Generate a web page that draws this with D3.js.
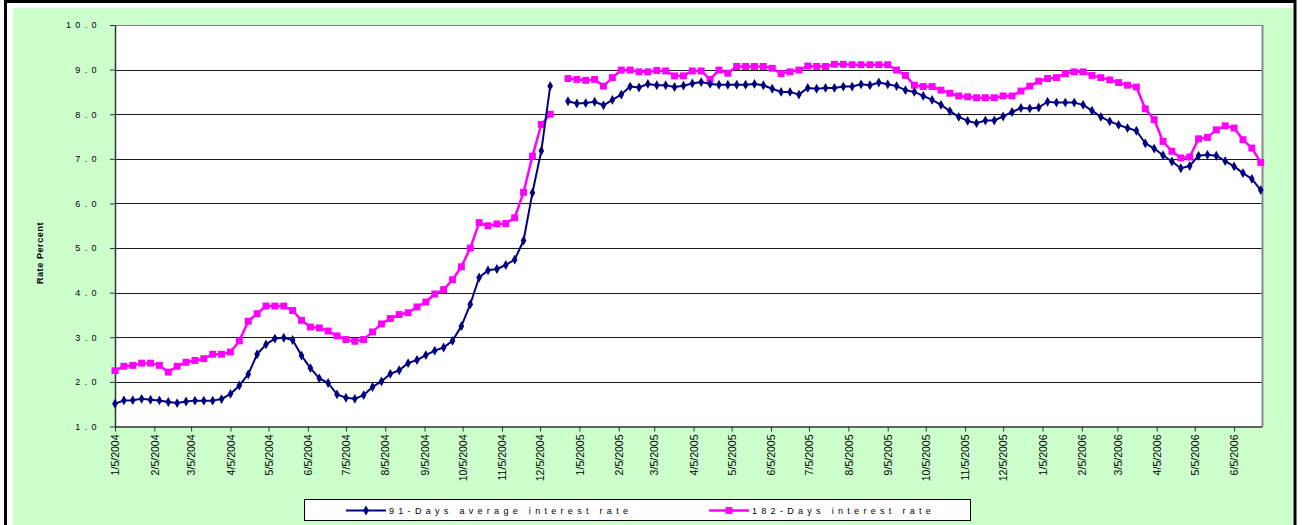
<!DOCTYPE html>
<html><head><meta charset="utf-8">
<script src="https://cdn.jsdelivr.net/npm/d3@7/dist/d3.min.js"></script>
<style>
body{margin:0;background:#fff;}
svg{display:block;font-family:"Liberation Sans",Arial,sans-serif;}
</style>
</head><body>
<svg id="c" width="1303" height="525"></svg>
<script>
// ---------------- DATA ----------------
const dates = [
"2004-01-05","2004-01-12","2004-01-19","2004-01-26","2004-02-02","2004-02-09","2004-02-16","2004-02-23",
"2004-03-01","2004-03-08","2004-03-15","2004-03-22","2004-03-29","2004-04-05","2004-04-12","2004-04-19","2004-04-26",
"2004-05-03","2004-05-10","2004-05-17","2004-05-24","2004-05-31","2004-06-07","2004-06-14","2004-06-21","2004-06-28",
"2004-07-05","2004-07-12","2004-07-19","2004-07-26","2004-08-02","2004-08-09","2004-08-16","2004-08-23","2004-08-30",
"2004-09-06","2004-09-13","2004-09-20","2004-09-27","2004-10-04","2004-10-11","2004-10-18","2004-10-25",
"2004-11-01","2004-11-08","2004-11-15","2004-11-22","2004-11-29","2004-12-06","2004-12-13","2004-12-20","2004-12-27",
"2005-01-03","2005-01-10","2005-01-17","2005-01-24","2005-01-31","2005-02-07","2005-02-14","2005-02-21","2005-02-28",
"2005-03-07","2005-03-14","2005-03-21","2005-03-28","2005-04-04","2005-04-11","2005-04-18","2005-04-25",
"2005-05-02","2005-05-09","2005-05-16","2005-05-23","2005-05-30","2005-06-06","2005-06-13","2005-06-20","2005-06-27",
"2005-07-04","2005-07-11","2005-07-18","2005-07-25","2005-08-01","2005-08-08","2005-08-15","2005-08-22","2005-08-29",
"2005-09-05","2005-09-12","2005-09-19","2005-09-26","2005-10-03","2005-10-10","2005-10-17","2005-10-24","2005-10-31",
"2005-11-07","2005-11-14","2005-11-21","2005-11-28","2005-12-05","2005-12-12","2005-12-19","2005-12-26",
"2006-01-02","2006-01-09","2006-01-16","2006-01-23","2006-01-30","2006-02-06","2006-02-13","2006-02-20","2006-02-27",
"2006-03-06","2006-03-13","2006-03-20","2006-03-27","2006-04-03","2006-04-10","2006-04-17","2006-04-24",
"2006-05-01","2006-05-08","2006-05-15","2006-05-22","2006-05-29","2006-06-05","2006-06-12","2006-06-19","2006-06-26"
];

const rate91 = [
1.51,1.585,1.59,1.62,1.60,1.585,1.55,1.525,1.56,1.58,1.58,1.58,1.615,1.73,1.92,2.17,2.62,2.84,2.97,2.99,
2.94,2.59,2.31,2.08,1.975,1.72,1.645,1.62,1.705,1.885,2.01,2.18,2.26,2.42,2.49,2.60,2.70,2.77,2.92,3.25,
3.74,4.34,4.50,4.53,4.62,4.74,5.17,6.24,7.18,8.63,null,
8.29,8.24,8.25,8.28,8.20,8.32,8.44,8.62,8.60,8.68,8.65,8.65,8.61,8.64,8.69,8.72,8.68,8.66,8.66,8.66,
8.66,8.68,8.65,8.57,8.50,8.50,8.44,8.59,8.57,8.59,8.59,8.62,8.62,8.67,8.65,8.71,8.67,8.63,
8.54,8.50,8.41,8.32,8.21,8.07,7.94,7.85,7.80,7.86,7.86,7.95,8.05,8.14,8.13,8.15,8.28,8.26,8.26,8.26,
8.21,8.08,7.94,7.84,7.76,7.69,7.63,7.35,7.23,7.08,6.94,6.79,6.84,7.07,7.09,7.07,6.95,6.83,6.68,6.55,6.30
];

const rate182 = [
2.25,2.35,2.37,2.42,2.42,2.37,2.22,2.35,2.44,2.48,2.52,2.62,2.62,2.67,2.92,3.36,3.53,3.70,3.70,3.70,
3.60,3.38,3.23,3.21,3.14,3.03,2.95,2.91,2.95,3.12,3.30,3.42,3.51,3.55,3.68,3.79,3.97,4.07,4.29,4.58,
5.00,5.57,5.50,5.54,5.55,5.68,6.25,7.06,7.77,8.00,null,
8.80,8.78,8.76,8.78,8.63,8.82,8.99,8.99,8.95,8.95,8.98,8.97,8.86,8.86,8.97,8.97,8.78,8.99,8.92,9.07,
9.07,9.07,9.07,9.03,8.91,8.95,8.99,9.08,9.07,9.07,9.12,9.12,9.11,9.11,9.11,9.11,9.11,8.99,
8.87,8.65,8.62,8.62,8.54,8.47,8.41,8.39,8.37,8.37,8.37,8.41,8.41,8.52,8.63,8.74,8.80,8.82,8.91,8.95,
8.95,8.87,8.82,8.77,8.71,8.65,8.61,8.12,7.88,7.39,7.17,7.02,7.04,7.45,7.48,7.65,7.74,7.69,7.43,7.24,6.92
];

const xTickLabels = [
"1/5/2004","2/5/2004","3/5/2004","4/5/2004","5/5/2004","6/5/2004","7/5/2004","8/5/2004","9/5/2004","10/5/2004","11/5/2004","12/5/2004",
"1/5/2005","2/5/2005","3/5/2005","4/5/2005","5/5/2005","6/5/2005","7/5/2005","8/5/2005","9/5/2005","10/5/2005","11/5/2005","12/5/2005",
"1/5/2006","2/5/2006","3/5/2006","4/5/2006","5/5/2006","6/5/2006"
];
const yTicks = [1,2,3,4,5,6,7,8,9,10];
const seriesNames = ["91-Days average interest rate","182-Days interest rate"];
const yTitle = "Rate Percent";

// ---------------- LAYOUT ----------------
const W = 1303, H = 525;
const L = 115, R = 1262, T = 25, B = 426.5;
const navy = "#000080", magenta = "#FF00FF";

const svg = d3.select("#c");
svg.append("rect").attr("width", W).attr("height", H).attr("fill", "#fff");
svg.append("rect").attr("x", 13).attr("y", 8).attr("width", 1280).attr("height", 530).attr("fill", "#CCFFCC");
svg.append("rect").attr("x", 5.5).attr("y", 1.5).attr("width", 1289.5).attr("height", 600)
  .attr("fill", "none").attr("stroke", "#000").attr("stroke-width", 3);

const parse = d3.utcParse("%Y-%m-%d");
const parseTick = d3.utcParse("%m/%d/%Y");
const fmtTick = d3.utcFormat("%-m/%-d/%Y");
const dts = dates.map(parse);
const tickDates = xTickLabels.map(parseTick);

const x = d3.scaleUtc().domain([dts[0], d3.utcDay.offset(dts[dts.length - 1], 1)]).range([L, R]);
const y = d3.scaleLinear().domain([1, 10]).range([B, T]);

// plot area
svg.append("rect").attr("x", L).attr("y", T).attr("width", R - L).attr("height", B - T).attr("fill", "#fff");

// gridlines
svg.append("g").selectAll("line").data(yTicks.filter(v => v > 1 && v < 10)).join("line")
  .attr("x1", L).attr("x2", R)
  .attr("y1", d => Math.round(y(d)) + 0.5).attr("y2", d => Math.round(y(d)) + 0.5)
  .attr("stroke", "#1a1a1a").attr("stroke-width", 1);

// top / right border
svg.append("line").attr("x1", L).attr("x2", R).attr("y1", Math.round(T) + 0.5).attr("y2", Math.round(T) + 0.5)
  .attr("stroke", "#808080").attr("stroke-width", 1);
svg.append("line").attr("x1", R + 0.5).attr("x2", R + 0.5).attr("y1", T).attr("y2", B)
  .attr("stroke", "#8a8a8a").attr("stroke-width", 2);

// y axis
const yAxis = svg.append("g").attr("transform", `translate(${L},0)`)
  .call(d3.axisLeft(y).tickValues(yTicks).tickFormat(d3.format(".1f")).tickSize(5).tickSizeOuter(0));
yAxis.select(".domain").attr("stroke", "#333").attr("stroke-width", 1.5);
yAxis.selectAll(".tick line").attr("stroke", "#333");
yAxis.selectAll(".tick text").attr("x", -14).attr("font-size", 9).attr("letter-spacing", "4.4px")
  .attr("font-family", "'Liberation Sans',Arial,sans-serif").attr("fill", "#000");

// x axis
const xAxis = svg.append("g").attr("transform", `translate(0,${B})`)
  .call(d3.axisBottom(x).tickValues(tickDates).tickFormat(fmtTick).tickSize(5).tickSizeOuter(0));
xAxis.select(".domain").attr("stroke", "#333").attr("stroke-width", 1.5);
xAxis.selectAll(".tick line").attr("stroke", "#333");
xAxis.selectAll(".tick text")
  .attr("font-size", 10.5).attr("font-family", "'Liberation Sans',Arial,sans-serif").attr("fill", "#000")
  .attr("text-anchor", "end").attr("transform", "rotate(-90)")
  .attr("x", -8).attr("y", 0).attr("dy", "0.35em");

// y title
svg.append("text").attr("transform", `translate(43,253) rotate(-90)`)
  .attr("text-anchor", "middle").attr("font-size", 9).attr("font-weight", "bold")
  .attr("letter-spacing", "0.6px").text(yTitle);

// series
const s91 = dts.map((d, i) => ({d, v: rate91[i]}));
const s182 = dts.map((d, i) => ({d, v: rate182[i]}));
const line = d3.line().defined(p => p.v != null).x(p => x(p.d)).y(p => y(p.v));

const plot = svg.append("g");
plot.append("path").datum(s182).attr("d", line).attr("fill", "none")
  .attr("stroke", magenta).attr("stroke-width", 2.5).attr("stroke-linejoin", "round");
plot.append("g").selectAll("path").data(s182.filter(p => p.v != null)).join("path")
  .attr("transform", p => `translate(${x(p.d)},${y(p.v)})`)
  .attr("d", d3.symbol(d3.symbolSquare, 48)).attr("fill", magenta);

plot.append("path").datum(s91).attr("d", line).attr("fill", "none")
  .attr("stroke", navy).attr("stroke-width", 2).attr("stroke-linejoin", "round");
plot.append("g").selectAll("path").data(s91.filter(p => p.v != null)).join("path")
  .attr("transform", p => `translate(${x(p.d)},${y(p.v)})`)
  .attr("d", d3.symbol(d3.symbolDiamond, 28)).attr("fill", navy);

// legend
const lg = svg.append("g");
lg.append("rect").attr("x", 304.5).attr("y", 499.5).attr("width", 666).attr("height", 21)
  .attr("fill", "#fff").attr("stroke", "#000").attr("stroke-width", 1);
const items = [
  {name: seriesNames[0], color: navy, x0: 346, sym: d3.symbolDiamond, size: 28, w: 2},
  {name: seriesNames[1], color: magenta, x0: 709, sym: d3.symbolSquare, size: 48, w: 2.5}
];
items.forEach(it => {
  lg.append("line").attr("x1", it.x0).attr("x2", it.x0 + 40).attr("y1", 510.5).attr("y2", 510.5)
    .attr("stroke", it.color).attr("stroke-width", it.w);
  lg.append("path").attr("transform", `translate(${it.x0 + 20},510.5)`)
    .attr("d", d3.symbol(it.sym, it.size)).attr("fill", it.color);
  lg.append("text").attr("x", it.x0 + 43).attr("y", 510.5).attr("dy", "0.35em")
    .attr("font-size", 9).attr("letter-spacing", "4.3px").text(it.name);
});
</script>
</body></html>
